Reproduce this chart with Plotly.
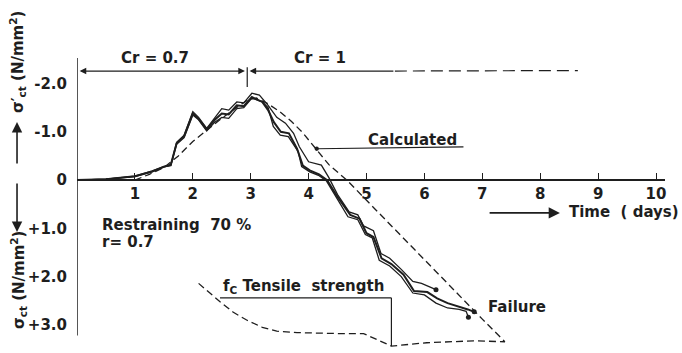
import plotly.graph_objects as go

# --- measured stress curves (three gauges), time in days, stress in N/mm2
# negative = compression (sigma'_ct), positive = tension (sigma_ct)
t_a = [0, 0.5, 1.0, 1.3, 1.5, 1.62, 1.72, 1.85, 2.0, 2.1, 2.24, 2.38, 2.5, 2.62, 2.76, 2.88,
       3.02, 3.15, 3.3, 3.45, 3.6, 3.74, 3.84, 4.0, 4.22, 4.35, 4.5, 4.7, 4.85, 4.95, 5.12,
       5.25, 5.4, 5.6, 5.8, 5.95, 6.12, 6.2]
s_a = [0, -0.02, -0.07, -0.17, -0.27, -0.31, -0.78, -0.93, -1.42, -1.30, -1.07, -1.30, -1.48,
       -1.45, -1.62, -1.60, -1.80, -1.76, -1.55, -1.30, -1.18, -0.97, -0.69, -0.38, -0.31,
       -0.05, 0.30, 0.66, 0.72, 0.95, 1.05, 1.52, 1.62, 1.85, 2.10, 2.14, 2.22, 2.27]

t_b = [0, 0.5, 1.0, 1.3, 1.5, 1.62, 1.72, 1.85, 2.0, 2.1, 2.24, 2.38, 2.5, 2.62, 2.76, 2.88,
       3.02, 3.2, 3.3, 3.4, 3.52, 3.66, 3.8, 3.9, 4.02, 4.18, 4.32, 4.5, 4.72, 4.88, 5.0,
       5.12, 5.26, 5.43, 5.64, 5.82, 6.05, 6.22, 6.4, 6.6, 6.75, 6.86]
s_b = [0, -0.02, -0.08, -0.18, -0.28, -0.32, -0.76, -0.91, -1.38, -1.27, -1.05, -1.25, -1.38,
       -1.36, -1.55, -1.53, -1.72, -1.62, -1.45, -1.20, -1.00, -0.97, -0.65, -0.30, -0.20,
       -0.12, 0.0, 0.35, 0.72, 0.80, 1.10, 1.18, 1.62, 1.74, 1.96, 2.30, 2.32, 2.45, 2.55,
       2.62, 2.68, 2.73]

t_c = [0, 0.5, 1.0, 1.3, 1.5, 1.62, 1.72, 1.85, 2.0, 2.1, 2.24, 2.38, 2.5, 2.62, 2.76, 2.88,
       3.02, 3.2, 3.3, 3.39, 3.51, 3.65, 3.82, 3.88, 4.02, 4.17, 4.31, 4.5, 4.68, 4.85, 4.98,
       5.1, 5.22, 5.4, 5.6, 5.8, 6.0, 6.2, 6.4, 6.6, 6.72, 6.76]
s_c = [0, -0.02, -0.08, -0.19, -0.28, -0.30, -0.74, -0.88, -1.35, -1.25, -1.02, -1.20, -1.30,
       -1.28, -1.48, -1.50, -1.70, -1.62, -1.50, -1.11, -0.93, -0.90, -0.59, -0.28, -0.17,
       -0.10, 0.02, 0.40, 0.76, 0.82, 1.13, 1.20, 1.66, 1.78, 2.0, 2.34, 2.38, 2.55, 2.65,
       2.68, 2.72, 2.84]

# --- calculated stress
t_calc = [1.0, 1.25, 1.5, 1.75, 2.0, 2.25, 2.5, 2.75, 2.95, 3.1, 3.3, 3.5, 3.7, 3.9, 4.1,
          4.35, 4.66, 5.0, 5.5, 6.0, 6.5, 7.0, 7.39]
s_calc = [0, -0.12, -0.26, -0.50, -0.80, -1.04, -1.28, -1.50, -1.66, -1.70, -1.58, -1.42,
          -1.22, -0.98, -0.68, -0.32, 0.0, 0.42, 1.03, 1.65, 2.26, 2.88, 3.35]

# --- tensile strength f_c
t_fc = [2.10, 2.3, 2.47, 2.7, 2.93, 3.2, 3.45, 3.8, 4.08, 4.5, 4.95, 5.43, 6.04, 6.85, 7.39]
s_fc = [2.14, 2.35, 2.52, 2.74, 2.90, 3.05, 3.13, 3.16, 3.17, 3.18, 3.18, 3.44, 3.37, 3.33, 3.35]

x_ticks = [1, 2, 3, 4, 5, 6, 7, 8, 9, 10]
y_ticks = [-2, -1, 0, 1, 2, 3]
y_ticktext = ["-2.0", "-1.0", "0", "+1.0", "+2.0", "+3.0"]

INK = "#1e1e1e"
FONT = dict(family="DejaVu Sans", size=15, color=INK, weight="bold")

fig = go.Figure()

dash = dict(color=INK, width=1.3, dash="7px,4px")
fig.add_trace(go.Scatter(x=t_calc, y=s_calc, mode="lines", line=dash))
fig.add_trace(go.Scatter(x=t_fc, y=s_fc, mode="lines", line=dash))

fig.add_trace(go.Scatter(x=t_a, y=s_a, mode="lines", line=dict(color=INK, width=1.3)))
fig.add_trace(go.Scatter(x=t_c, y=s_c, mode="lines", line=dict(color=INK, width=1.3)))
fig.add_trace(go.Scatter(x=t_b, y=s_b, mode="lines", line=dict(color=INK, width=2.0)))

# failure / end points of the gauges
fig.add_trace(go.Scatter(x=[t_a[-1], t_b[-1], t_c[-1]], y=[s_a[-1], s_b[-1], s_c[-1]],
                         mode="markers", marker=dict(color=INK, size=5)))

shapes = [
    # vertical axis line
    dict(type="line", xref="x", yref="y", x0=0, x1=0, y0=-2.53, y1=3.22,
         line=dict(color=INK, width=1.5)),
    # separator between the two restraint phases
    dict(type="line", xref="x", yref="y", x0=2.94, x1=2.94, y0=-2.34, y1=-1.93,
         line=dict(color=INK, width=1.2)),
    # Cr = 1 continues (dashed)
    dict(type="line", xref="x", yref="y", x0=5.49, x1=8.65, y0=-2.26, y1=-2.27,
         line=dict(color=INK, width=1.2, dash="12px,6px")),
    # leader for tensile strength
    dict(type="line", xref="x", yref="y", x0=2.47, x1=5.43, y0=2.44, y1=2.44,
         line=dict(color=INK, width=1.2)),
    dict(type="line", xref="x", yref="y", x0=5.43, x1=5.43, y0=2.44, y1=3.44,
         line=dict(color=INK, width=1.2)),
]

ann = []
# phase brackets
ann.append(dict(x=2.9, y=-2.26, ax=0.02, ay=-2.26, xref="x", yref="y", axref="x", ayref="y",
                text="", showarrow=True, arrowhead=2, startarrowhead=2, arrowside="end+start",
                arrowsize=1.1, arrowwidth=1.2, arrowcolor=INK))
ann.append(dict(x=2.98, y=-2.26, ax=5.49, ay=-2.26, xref="x", yref="y", axref="x", ayref="y",
                text="", showarrow=True, arrowhead=2, arrowsize=1.1, arrowwidth=1.2,
                arrowcolor=INK))
ann.append(dict(x=1.35, y=-2.53, xref="x", yref="y", text="Cr = 0.7", showarrow=False, font=FONT,
                xanchor="center", yanchor="middle"))
ann.append(dict(x=4.20, y=-2.53, xref="x", yref="y", text="Cr = 1", showarrow=False, font=FONT,
                xanchor="center", yanchor="middle"))

# leader with a dot on the calculated curve
ann.append(dict(x=4.14, y=-0.65, ax=6.70, ay=-0.69, xref="x", yref="y", axref="x", ayref="y",
                text="", showarrow=True, arrowhead=6, arrowsize=0.9, arrowwidth=1.2,
                arrowcolor=INK))

# labels in the plot
ann.append(dict(x=5.80, y=-0.84, xref="x", yref="y", text="Calculated", showarrow=False, font=FONT))
ann.append(dict(x=7.60, y=2.63, xref="x", yref="y", text="Failure", showarrow=False, font=FONT))
ann.append(dict(x=0.40, y=0.93, xref="x", yref="y", text="Restraining  70 %", showarrow=False,
                xanchor="left", font=FONT))
ann.append(dict(x=0.40, y=1.28, xref="x", yref="y", text="r= 0.7", showarrow=False,
                xanchor="left", font=FONT))
ann.append(dict(x=2.49, y=2.20, xref="x", yref="y", text="f<sub>C</sub> Tensile  strength",
                showarrow=False, xanchor="left", font=FONT))
ann.append(dict(x=8.46, y=0.66, xref="x", yref="y", text="Time  ( days)", showarrow=False,
                xanchor="left", font=FONT))
ann.append(dict(x=8.34, y=0.68, ax=7.10, ay=0.68, xref="x", yref="y", axref="x", ayref="y",
                text="", showarrow=True, arrowhead=2, arrowsize=1.4, arrowwidth=1.6,
                arrowcolor=INK))

# vertical axis titles with direction arrows
ann.append(dict(x=-0.1003, y=1 - (62 - 58) / 291, xref="paper", yref="paper", textangle=-90,
                xanchor="center", yanchor="middle",
                text="σ′<sub>ct</sub> (N/mm<sup>2</sup>)", showarrow=False, font=FONT))
ann.append(dict(x=-0.1003, y=1 - (280 - 58) / 291, xref="paper", yref="paper", textangle=-90,
                xanchor="center", yanchor="middle",
                text="σ<sub>ct</sub> (N/mm<sup>2</sup>)", showarrow=False, font=FONT))
ann.append(dict(x=-0.102, y=1 - (122 - 58) / 291, xref="paper", yref="paper", ax=0, ay=43,
                text="", showarrow=True, arrowhead=2, arrowsize=1.3, arrowwidth=1.6,
                arrowcolor=INK))
ann.append(dict(x=-0.102, y=1 - (232 - 58) / 291, xref="paper", yref="paper", ax=0, ay=-50,
                text="", showarrow=True, arrowhead=2, arrowsize=1.3, arrowwidth=1.6,
                arrowcolor=INK))

fig.update_layout(
    width=682, height=353,
    margin=dict(l=77, r=17, t=58, b=4),
    paper_bgcolor="white", plot_bgcolor="white",
    showlegend=False,
    shapes=shapes, annotations=ann,
    font=FONT,
    xaxis=dict(range=[0, 10.155], anchor="free", position=3.5 / 6.03,
               showline=True, linecolor=INK, linewidth=1.5,
               tickvals=x_ticks, ticks="inside", ticklen=6, tickcolor=INK, tickwidth=1.3,
               showgrid=False, zeroline=False, tickfont=FONT),
    yaxis=dict(range=[3.5, -2.53], showline=False, tickvals=y_ticks, ticktext=y_ticktext,
               ticks="", ticklabelstandoff=9, showgrid=False, zeroline=False, tickfont=FONT),
)

fig.write_html("out.html")
